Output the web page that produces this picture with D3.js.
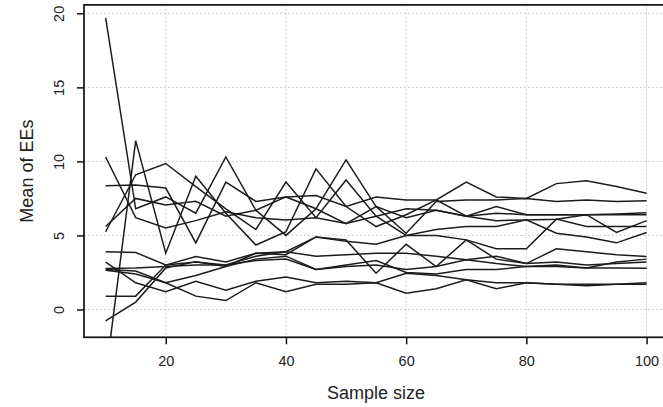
<!DOCTYPE html>
<html>
<head>
<meta charset="utf-8">
<script src="https://cdn.jsdelivr.net/npm/d3@7/dist/d3.min.js"></script>
<style>
  html, body { margin: 0; padding: 0; background: #fff; }
  svg { display: block; }
  text { font-family: "Liberation Sans", Arial, Helvetica, sans-serif; fill: #222; }
</style>
</head>
<body>
<svg id="chart" width="663" height="407"></svg>
<script>
// Sample sizes at which the mean elementary effect was computed
const sampleSizes = [10, 15, 20, 25, 30, 35, 40, 45, 50, 55, 60, 65, 70, 75, 80, 85, 90, 95, 100];

// Mean of elementary effects per input factor
const factor1  = [19.7, 6.8, 7.6, 6.5, 10.3, 6.7, 5.0, 6.8, 10.1, 6.95, 5.15, 7.3, 7.4, 7.4, 7.5, 7.3, 7.4, 7.3, 7.35];
const factor2  = [-4.5, 11.4, 3.8, 9.0, 6.5, 4.35, 5.25, 9.5, 6.95, 5.6, 6.4, 7.4, 6.3, 6.95, 6.4, 6.4, 6.4, 6.45, 6.54];
const factor3  = [10.3, 6.2, 5.5, 6.0, 6.6, 6.2, 6.05, 6.2, 5.8, 6.3, 6.8, 6.7, 6.3, 6.5, 6.4, 6.4, 6.4, 6.4, 6.4];
const factor4  = [5.25, 9.1, 9.86, 8.3, 6.8, 5.4, 8.6, 6.2, 8.75, 6.3, 5.0, 5.4, 5.6, 5.6, 6.05, 5.15, 4.9, 4.5, 5.2];
const factor5  = [8.36, 8.4, 8.2, 4.5, 8.6, 7.3, 7.6, 7.7, 6.95, 7.6, 7.4, 7.4, 8.6, 7.6, 7.5, 8.5, 8.7, 8.3, 7.85];
const factor6  = [5.6, 7.5, 7.05, 7.3, 6.3, 6.7, 7.6, 6.8, 5.8, 6.95, 6.2, 6.7, 6.3, 6.0, 6.05, 6.1, 6.4, 5.2, 6.0];
const factor7  = [3.9, 3.85, 3.0, 3.2, 3.0, 3.6, 3.9, 4.9, 4.6, 4.4, 5.0, 5.0, 4.7, 4.1, 4.1, 6.1, 5.6, 5.6, 5.6];
const factor8  = [2.7, 2.6, 1.8, 2.3, 2.9, 3.8, 3.7, 4.9, 4.7, 2.45, 4.4, 2.9, 4.7, 3.4, 3.1, 3.2, 3.0, 3.1, 3.2];
const factor9  = [2.77, 2.8, 2.9, 3.0, 3.0, 3.3, 3.4, 2.7, 3.0, 3.3, 2.5, 2.4, 2.7, 2.7, 2.9, 2.9, 2.8, 2.8, 2.78];
const factor10 = [0.9, 0.9, 3.0, 3.57, 3.2, 3.8, 3.9, 3.6, 3.7, 3.8, 3.8, 3.6, 3.35, 3.6, 3.1, 4.1, 3.9, 3.7, 3.57];
const factor11 = [-0.77, 0.5, 2.8, 3.23, 2.9, 3.4, 3.6, 2.7, 2.9, 3.0, 2.7, 2.9, 3.35, 3.1, 2.9, 3.0, 2.8, 3.2, 3.4];
const factor12 = [3.2, 1.8, 1.2, 1.9, 1.3, 1.9, 2.2, 1.8, 1.9, 1.8, 2.45, 2.3, 2.0, 1.8, 1.8, 1.7, 1.6, 1.7, 1.8];
const factor13 = [2.65, 2.4, 1.8, 0.9, 0.6, 1.8, 1.2, 1.7, 1.7, 1.8, 1.1, 1.4, 2.0, 1.4, 1.8, 1.7, 1.7, 1.7, 1.7];

const xTicks = [20, 40, 60, 80, 100];
const yTicks = [0, 5, 10, 15, 20];
const xTitle = "Sample size";
const yTitle = "Mean of EEs";

const allSeries = [factor1, factor2, factor3, factor4, factor5, factor6, factor7,
                   factor8, factor9, factor10, factor11, factor12, factor13];

const svg = d3.select("#chart");

// Plot region
const plot = { left: 84, right: 668.2, top: 4.9, bottom: 337.3 };

const x = d3.scaleLinear().domain([6.4, 103.6]).range([plot.left, plot.right]);
const y = d3.scaleLinear().domain([-1.88, 20.57]).range([plot.bottom, plot.top]);

svg.append("defs").append("clipPath").attr("id", "plot-clip")
  .append("rect")
  .attr("x", plot.left).attr("y", plot.top)
  .attr("width", plot.right - plot.left).attr("height", plot.bottom - plot.top);

// Dotted grid
const grid = svg.append("g").attr("class", "grid");
grid.selectAll("line.v").data(xTicks).join("line")
  .attr("class", "v")
  .attr("x1", d => x(d)).attr("x2", d => x(d))
  .attr("y1", plot.top).attr("y2", plot.bottom)
  .attr("stroke", "#c4c4c4").attr("stroke-width", 1)
  .attr("stroke-dasharray", "1.5,2.5");
grid.selectAll("line.h").data(yTicks).join("line")
  .attr("class", "h")
  .attr("y1", d => y(d)).attr("y2", d => y(d))
  .attr("x1", plot.left).attr("x2", plot.right)
  .attr("stroke", "#c4c4c4").attr("stroke-width", 1)
  .attr("stroke-dasharray", "1.5,2.5");

// Series lines
const line = d3.line()
  .x((d, i) => x(sampleSizes[i]))
  .y(d => y(d));

svg.append("g").attr("clip-path", "url(#plot-clip)")
  .selectAll("path").data(allSeries).join("path")
  .attr("d", line)
  .attr("fill", "none")
  .attr("stroke", "#1c1c1c")
  .attr("stroke-width", 1.5)
  .attr("stroke-linejoin", "miter");

// Box around the plot region
svg.append("rect")
  .attr("x", plot.left).attr("y", plot.top)
  .attr("width", plot.right - plot.left).attr("height", plot.bottom - plot.top)
  .attr("fill", "none").attr("stroke", "#111").attr("stroke-width", 1.7);

// Bottom axis
const xAxis = d3.axisBottom(x).tickValues(xTicks).tickSize(7).tickPadding(11)
  .tickFormat(d3.format("d"));
const gx = svg.append("g").attr("transform", `translate(0,${plot.bottom})`).call(xAxis);
gx.select(".domain").remove();
gx.selectAll(".tick line").attr("stroke", "#111").attr("stroke-width", 1.5);
gx.selectAll(".tick text")
  .attr("font-size", 14.5).attr("fill", "#222")
  .attr("font-family", "'Liberation Sans', Arial, sans-serif");

// Left axis with rotated labels
const yAxis = d3.axisLeft(y).tickValues(yTicks).tickSize(7).tickPadding(10)
  .tickFormat(d3.format("d"));
const gy = svg.append("g").attr("transform", `translate(${plot.left},0)`).call(yAxis);
gy.select(".domain").remove();
gy.selectAll(".tick line").attr("stroke", "#111").attr("stroke-width", 1.5);
gy.selectAll(".tick text")
  .attr("font-size", 14.5).attr("fill", "#222")
  .attr("font-family", "'Liberation Sans', Arial, sans-serif")
  .attr("x", null).attr("dy", null)
  .attr("text-anchor", "middle")
  .attr("transform", "translate(-25,0) rotate(-90)")
  .attr("dominant-baseline", "central");

// Axis titles
svg.append("text")
  .attr("x", (plot.left + plot.right) / 2).attr("y", 399)
  .attr("text-anchor", "middle")
  .attr("font-size", 18)
  .text(xTitle);

svg.append("text")
  .attr("transform", `translate(33,${(plot.top + plot.bottom) / 2}) rotate(-90)`)
  .attr("text-anchor", "middle")
  .attr("font-size", 18)
  .text(yTitle);
</script>
</body>
</html>
